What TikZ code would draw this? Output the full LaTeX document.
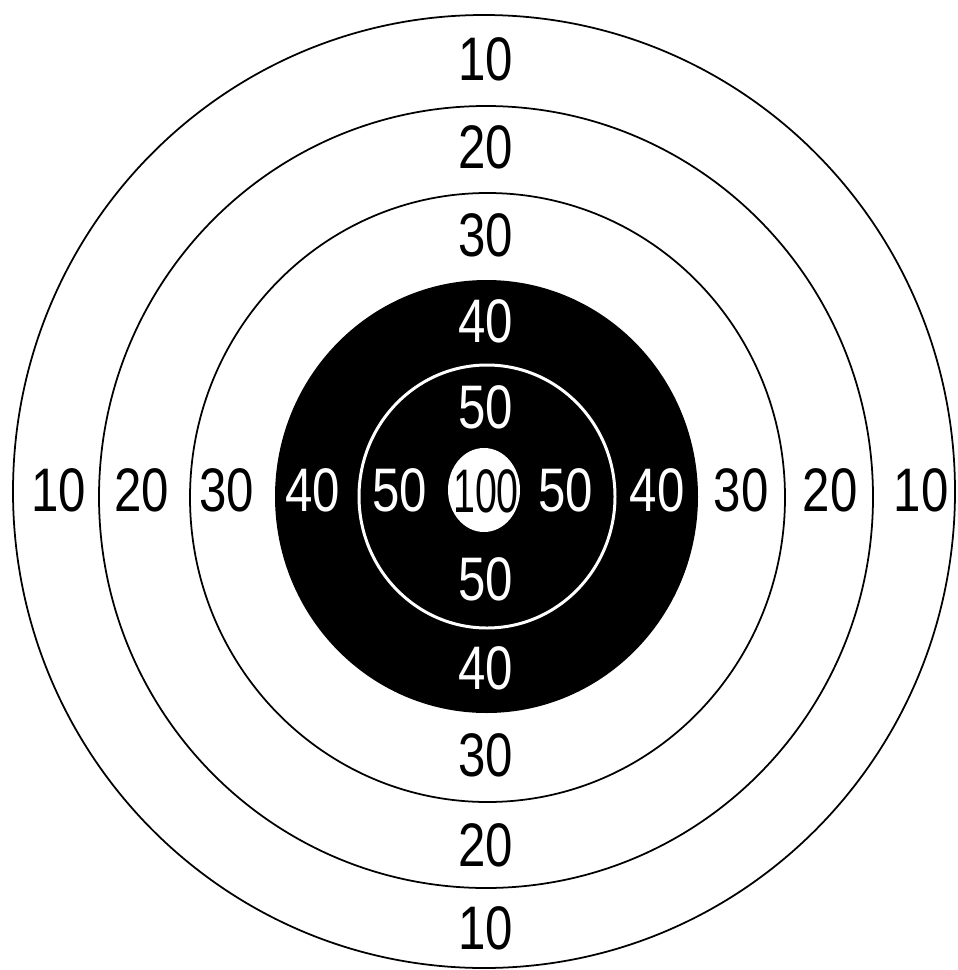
\documentclass[tikz,border=0pt]{standalone}
\usepackage{fontspec}
\setmainfont[FakeStretch=0.8]{Liberation Sans}

% (left, right, top, bottom, options)
\newcommand{\ring}[5]{
    \path[#5] ({(#1+#2)/2}, {(#3+#4)/2})
      ellipse [x radius={(#2-#1)/2}, y radius={(#4-#3)/2}];
}
% (x west, x east, y north, y south, name, text, colour)
\newcommand{\scores}[7]{
    \node[score, #7] (#5w) at (#1, 490) {#6};
    \node[score, #7] (#5e) at (#2, 490) {#6};
    \node[score, #7] (#5n) at (486, #3) {#6};
    \node[score, #7] (#5s) at (486, #4) {#6};
}

\tikzset{
  score/.style={inner sep=0pt, font=\fontsize{35}{40}\selectfont},
  line/.style={draw=black, line width=1pt}
}

\begin{document}
\begin{tikzpicture}[x=0.02cm, y=-0.02cm]

  \useasboundingbox (0,0) rectangle (957,970);
  \fill[white] (0,0) rectangle (957,970);

  \ring{13}{955}{15}{968}{line}
  \ring{99}{873}{106}{888}{line}
  \ring{190}{785}{193}{802}{line}
  \ring{275}{698}{280}{713}{fill=black}
  \ring{359}{615}{365}{628}{draw=white, line width=1.7pt}
  \ring{448}{520}{448}{532}{fill=white}

  \scores{59}{921}{59}{928}{ten}{10}{black}
  \scores{142}{830}{147}{845}{twenty}{20}{black}
  \scores{227}{741}{235}{755}{thirty}{30}{black}
  \scores{313}{657}{321}{668}{forty}{40}{white}
  \scores{400}{566}{407}{579}{fifty}{50}{white}
  \node[score, xscale=0.8, transform shape] (hundred) at (486, 491) {100};

\end{tikzpicture}
\end{document}
